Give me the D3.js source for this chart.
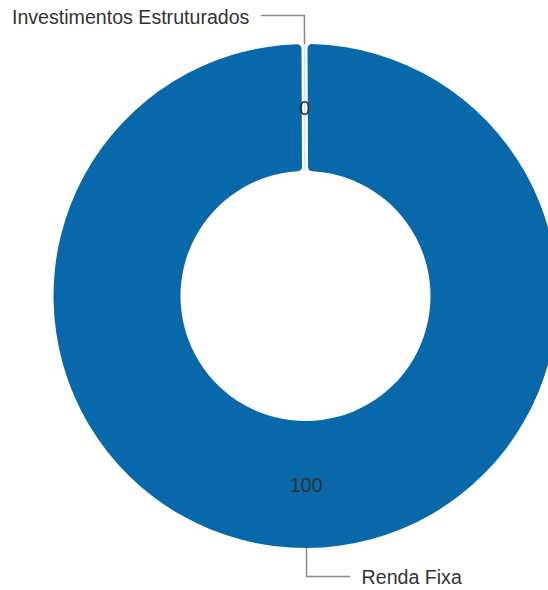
<!DOCTYPE html>
<html>
<head>
<meta charset="utf-8">
<script src="https://cdn.jsdelivr.net/npm/d3@7"></script>
<style>
  html, body { margin: 0; padding: 0; background: #fff; }
  svg { display: block; }
</style>
</head>
<body>
<svg id="chart" width="548" height="590"></svg>
<script>
// Data
const categories = ["Investimentos Estruturados", "Renda Fixa"];
const values = [0, 100];
const colors = ["#0868A9", "#0868A9"];

const W = 548, H = 590;
const cx = 305.5, cy = 296;
const outerR = 252, innerR = 125;
const fontFamily = "'Liberation Sans', Arial, sans-serif";
const fontSize = 19.6;
const startOffset = -0.004;

const svg = d3.select("#chart");
const g = svg.append("g").attr("transform", `translate(${cx},${cy})`);

const data = categories.map((c, i) => ({ name: c, value: values[i], color: colors[i] }));

const pie = d3.pie().sort(null).value(d => d.value).padAngle(1e-4)
  .startAngle(startOffset).endAngle(startOffset + 2 * Math.PI);
const arcs = pie(data);

const padR = 250;
const gapPx = 6;
const arc = d3.arc()
  .innerRadius(innerR)
  .outerRadius(outerR)
  .cornerRadius(4.5)
  .padRadius(padR)
  .padAngle(gapPx / padR);

// slices
arcs.forEach(a => {
  if (a.data.value > 0) {
    g.append("path").attr("d", arc(a)).attr("fill", a.data.color);
  } else {
    const ang = a.startAngle;
    g.append("line")
      .attr("x1", Math.sin(ang) * innerR).attr("y1", -Math.cos(ang) * innerR)
      .attr("x2", Math.sin(ang) * outerR).attr("y2", -Math.cos(ang) * outerR)
      .attr("stroke", "#c9dff0").attr("stroke-width", 1.2);
  }
});

// value labels at centroid
const labelArc = d3.arc().innerRadius(innerR).outerRadius(outerR);
arcs.forEach(a => {
  const c = labelArc.centroid({ startAngle: a.startAngle, endAngle: a.endAngle });
  g.append("text")
    .attr("x", c[0])
    .attr("y", c[1] + 7.5)
    .attr("text-anchor", "middle")
    .attr("font-family", fontFamily)
    .attr("font-size", fontSize)
    .attr("fill", "#333")
    .text(a.data.value);
});

// leader lines + category labels
const len1 = 28.5, len2 = 43.5, textGap = 11.5;
arcs.forEach(a => {
  const mid = (a.startAngle + a.endAngle) / 2;
  const sx = Math.sin(mid), sy = -Math.cos(mid);
  const p0 = [sx * outerR, sy * outerR];
  const p1 = [sx * (outerR + len1), sy * (outerR + len1)];
  const left = p1[1] < 0 ? p1[0] <= 0.5 : p1[0] < -0.5;
  const dir = left ? -1 : 1;
  const p2 = [p1[0] + dir * len2, p1[1]];
  g.append("polyline")
    .attr("points", [p0, p1, p2].map(p => p.join(",")).join(" "))
    .attr("fill", "none")
    .attr("stroke", "#888")
    .attr("stroke-width", 1.5);
  g.append("text")
    .attr("x", p2[0] + dir * textGap)
    .attr("y", p2[1] + 8)
    .attr("text-anchor", left ? "end" : "start")
    .attr("font-family", fontFamily)
    .attr("font-size", fontSize)
    .attr("fill", "#333")
    .text(a.data.name);
});
</script>
</body>
</html>
